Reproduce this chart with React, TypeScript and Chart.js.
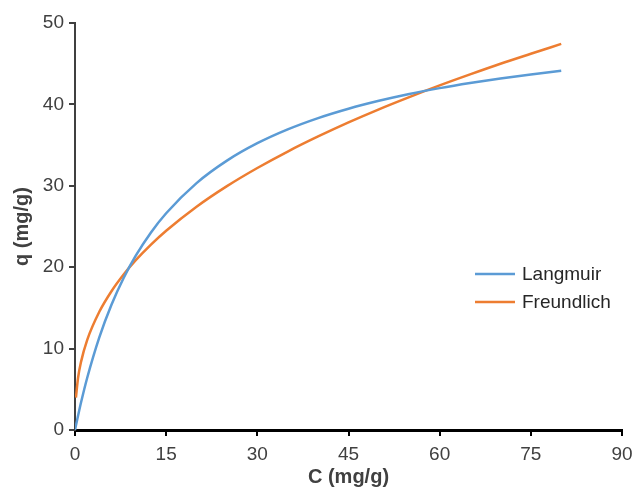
import React, { useEffect, useRef } from "react";
import { Chart, registerables } from "chart.js";

Chart.register(...registerables);

const concentration = [0, 0.15, 0.5, 1, 2, 4, 6, 8, 10, 12.5, 15, 20, 25, 30, 35, 40, 45, 50, 55, 60, 65, 70, 75, 80];
const langmuir = [0, 0.54, 1.74, 3.4, 6.39, 11.38, 15.38, 18.67, 21.41, 24.27, 26.63, 30.33, 33.09, 35.23, 36.93, 38.32, 39.47, 40.44, 41.28, 42.0, 42.63, 43.19, 43.68, 44.13];
const freundlich = [null, 3.97, 6.39, 8.4, 11.05, 14.52, 17.05, 19.1, 20.86, 22.78, 24.48, 27.43, 29.96, 32.19, 34.21, 36.06, 37.79, 39.4, 40.9, 42.33, 43.68, 44.99, 46.22, 47.43];
const seriesNames = ["Langmuir", "Freundlich"];
const seriesColors = ["#5B9BD5", "#ED7D31"];
const xTicks = [0, 15, 30, 45, 60, 75, 90];
const yTicks = [0, 10, 20, 30, 40, 50];
const xTitle = "C (mg/g)";
const yTitle = "q (mg/g)";

const FONT = "'Liberation Sans', Arial, sans-serif";

const legendPlugin = {
  id: "insideLegend",
  afterDraw(chart: any) {
    const ctx = chart.ctx;
    ctx.save();
    ctx.font = `19px ${FONT}`;
    ctx.textBaseline = "middle";
    ctx.textAlign = "left";
    seriesNames.forEach((name, i) => {
      const y = 274 + i * 28;
      ctx.strokeStyle = seriesColors[i];
      ctx.lineWidth = 2.5;
      ctx.beginPath();
      ctx.moveTo(475, y);
      ctx.lineTo(515, y);
      ctx.stroke();
      ctx.fillStyle = "#262626";
      ctx.fillText(name, 522, y + 1);
    });
    ctx.restore();
  },
};

export default function App() {
  const ref = useRef<HTMLCanvasElement | null>(null);
  useEffect(() => {
    if (!ref.current) return;
    const mk = (vals: (number | null)[]) =>
      concentration
        .map((x, i) => ({ x, y: vals[i] }))
        .filter((p) => p.y !== null);
    const font = { family: FONT, size: 19 };
    const chart = new Chart(ref.current, {
      type: "line",
      data: {
        datasets: [
          {
            label: seriesNames[0],
            data: mk(langmuir) as any,
            borderColor: seriesColors[0],
            borderWidth: 2.5,
            pointRadius: 0,
            cubicInterpolationMode: "monotone",
            fill: false,
          },
          {
            label: seriesNames[1],
            data: mk(freundlich) as any,
            borderColor: seriesColors[1],
            borderWidth: 2.5,
            pointRadius: 0,
            cubicInterpolationMode: "monotone",
            fill: false,
          },
        ],
      },
      options: {
        animation: false,
        responsive: false,
        maintainAspectRatio: false,
        layout: { padding: { left: 0, top: 23, right: 11, bottom: 0 } },
        plugins: { legend: { display: false }, tooltip: { enabled: false } },
        scales: {
          x: {
            type: "linear",
            min: 0,
            max: 90,
            afterBuildTicks: (s: any) => {
              s.ticks = xTicks.map((v) => ({ value: v }));
            },
            afterFit: (s: any) => {
              s.height = 61;
              s.paddingLeft = 0;
              s.paddingRight = 0;
            },
            ticks: { font, color: "#404040", padding: 7, maxRotation: 0 },
            grid: { drawOnChartArea: false, drawTicks: true, tickLength: 6, color: "#000", lineWidth: 2 },
            border: { display: true, color: "#000", width: 3 },
            title: { display: true, text: xTitle, font: { family: FONT, size: 20, weight: "bold" }, color: "#404040", padding: { top: 0, bottom: 2 } },
          },
          y: {
            type: "linear",
            min: 0,
            max: 50,
            afterBuildTicks: (s: any) => {
              s.ticks = yTicks.map((v) => ({ value: v }));
            },
            afterFit: (s: any) => {
              s.width = 75;
              s.paddingTop = 0;
              s.paddingBottom = 0;
            },
            ticks: { font, color: "#404040", padding: 5 },
            grid: { drawOnChartArea: false, drawTicks: true, tickLength: 6, color: "#404040", lineWidth: 2 },
            border: { display: true, color: "#404040", width: 2 },
            title: { display: true, text: yTitle, font: { family: FONT, size: 20, weight: "bold" }, color: "#404040", padding: { top: 10, bottom: 0 } },
          },
        },
      },
      plugins: [legendPlugin],
    } as any);
    return () => chart.destroy();
  }, []);
  return (
    <div style={{ position: "fixed", left: 0, top: 0, width: 633, height: 491, background: "#fff" }}>
      <canvas ref={ref} width={633} height={491} style={{ width: 633, height: 491 }} />
    </div>
  );
}
